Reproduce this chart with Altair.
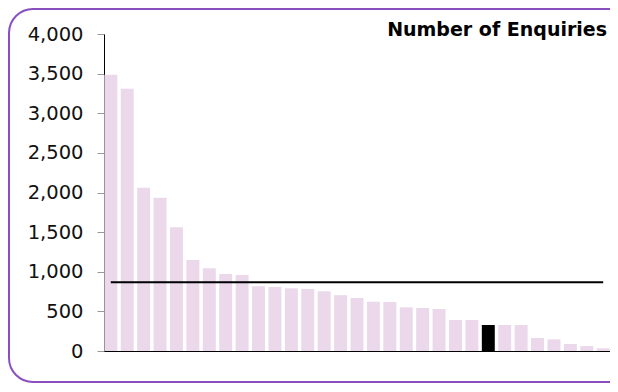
import altair as alt
import pandas as pd

# Data
categories = [f"Org {i}" for i in range(1, 32)]
enquiries = [3486, 3310, 2061, 1934, 1561, 1148, 1043, 972, 959, 816,
             808, 791, 782, 753, 705, 669, 622, 618, 551, 543,
             530, 391, 391, 328, 328, 328, 164, 147, 88, 63, 34]
highlighted = ["Org 24"]
y_ticks = [0, 500, 1000, 1500, 2000, 2500, 3000, 3500, 4000]
title_text = ["Number of Enquiries"]

df = pd.DataFrame({"category": categories, "value": enquiries})
df["hl"] = df["category"].isin(highlighted)

FONT = "DejaVu Sans"
BAR = "#ebd8eb"
PURPLE = "#8a4fbf"

x_scale = alt.Scale(paddingInner=0.21, paddingOuter=0.02)
y_scale = alt.Scale(domain=[0, 4000], nice=False)
x_axis = alt.Axis(labels=False, ticks=False, title=None,
                  domainColor="black", domainWidth=1)
y_axis = alt.Axis(values=y_ticks, format=",d", title=None, grid=False,
                  labelOverlap=False,
                  domainColor="black", tickColor="#999999", tickSize=7,
                  labelFont=FONT, labelFontSize=19.5, labelColor="#111111",
                  labelPadding=14)

bars = alt.Chart(df).mark_bar().encode(
    x=alt.X("category:N", sort=None, scale=x_scale, axis=x_axis),
    y=alt.Y("value:Q", scale=y_scale, axis=y_axis),
    color=alt.condition("datum.hl", alt.value("black"), alt.value(BAR)),
)

mean_line = alt.Chart(df).transform_joinaggregate(
    avg="mean(value)"
).mark_line(color="black", strokeWidth=2).encode(
    x=alt.X("category:N", sort=None, scale=x_scale, axis=x_axis),
    y=alt.Y("avg:Q", scale=y_scale, axis=y_axis),
)

title = alt.Chart(pd.DataFrame({"t": title_text})).mark_text(
    align="right", baseline="alphabetic", font=FONT, fontSize=19,
    fontWeight="bold", color="black"
).encode(text="t:N", x=alt.value(503), y=alt.value(2))

border = alt.Chart(pd.DataFrame({"b": [1]})).mark_rect(
    fillOpacity=0, stroke=PURPLE, strokeWidth=2, cornerRadius=24
).encode(x=alt.value(-95), x2=alt.value(530), y=alt.value(-25), y2=alt.value(348))

chart = alt.layer(bars, mean_line, title, border).properties(
    width=506, height=317,
    autosize=alt.AutoSizeParams(type="none"),
    padding={"left": 96, "top": 26, "right": 0, "bottom": 33},
).configure_view(stroke=None)

chart.save("out.html", embed_options={"renderer": "svg", "actions": False})
